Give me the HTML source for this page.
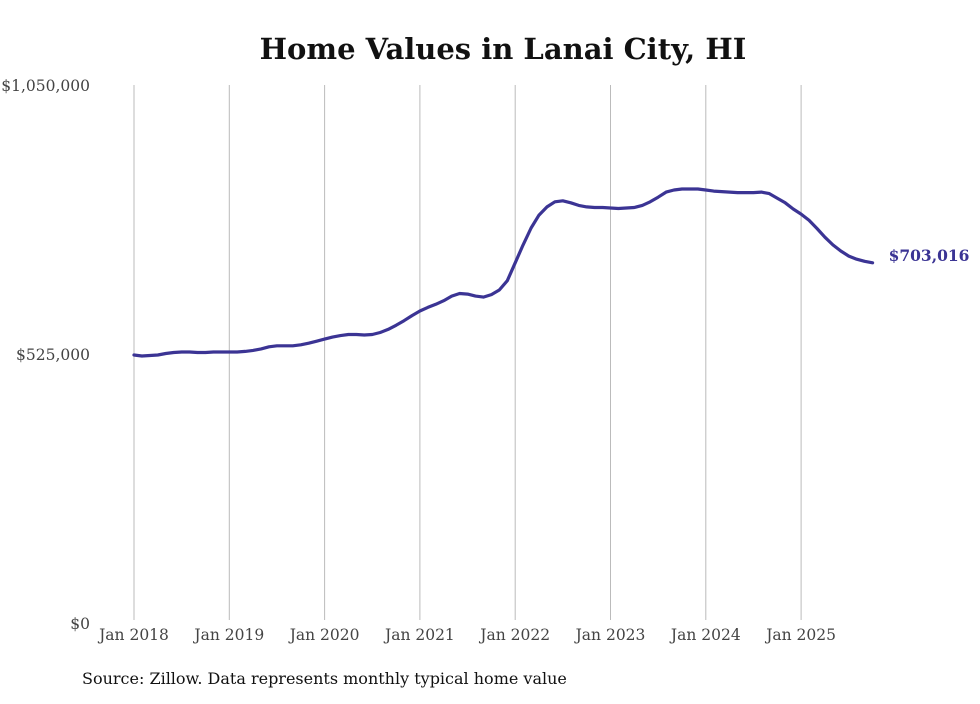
<!DOCTYPE html>
<html><head><meta charset="utf-8"><style>
body{margin:0;background:#fff;}
svg text{font-family:"DejaVu Serif","Liberation Serif",serif;}
</style></head><body>
<svg id="chart" width="980" height="699">
<text x="503" y="59" text-anchor="middle" font-size="29" font-weight="bold" fill="#111">Home Values in Lanai City, HI</text>
<g id="grid"></g>
<g id="yaxis"></g>
<g id="xaxis"></g>
<path id="line" fill="none" stroke="#3b3494" stroke-width="3.2" stroke-linejoin="round" stroke-linecap="round"/>
<text id="endlabel" font-size="15.5" font-weight="bold" fill="#3b3494"></text>
<text x="82" y="684" font-size="16" fill="#111">Source: Zillow. Data represents monthly typical home value</text>
</svg>
<script>
const yTicks=[0,525000,1050000];
const yTickLabels=["$0","$525,000","$1,050,000"];
const xTickYears=[2018,2019,2020,2021,2022,2023,2024,2025];
const xTickLabels=["Jan 2018","Jan 2019","Jan 2020","Jan 2021","Jan 2022","Jan 2023","Jan 2024","Jan 2025"];
const startYear=2018;
const values=[
523,521,522,523,526,528,529,529,528,528,529,529,
529,529,530,532,535,539,541,541,541,543,546,550,
554,558,561,563,563,562,563,567,573,581,590,600,
609,616,622,629,638,643,642,638,636,641,650,668,
703,738,771,796,812,822,824,820,815,812,811,811,
810,809,810,811,815,822,831,841,845,847,847,847,
845,843,842,841,840,840,840,841,838,829,820,808,
798,786,770,753,738,726,716,710,706,703.016].map(v=>v*1000);
const lastLabel="$703,016";

const NS="http://www.w3.org/2000/svg";
const x0=134,yearW=95.3,yBase=623,yTop=85,yMax=1050000;
const xs=m=>x0+m*yearW/12;
const ys=v=>yBase-(v/yMax)*(yBase-yTop);
function mk(tag,attrs,parent){const e=document.createElementNS(NS,tag);for(const k in attrs)e.setAttribute(k,attrs[k]);parent.appendChild(e);return e;}
const grid=document.getElementById('grid'),xa=document.getElementById('xaxis'),ya=document.getElementById('yaxis');
xTickYears.forEach((yr,i)=>{
  const x=xs((yr-startYear)*12);
  const l=mk('line',{x1:x,x2:x,y1:yTop,y2:620,stroke:'#bbb','stroke-width':1},grid);
  
  
  const t=mk('text',{x:x,y:640,'text-anchor':'middle','font-size':15.5,fill:'#444'},xa);
  t.textContent=xTickLabels[i];
  
  
});
yTicks.forEach((v,i)=>{
  const t=mk('text',{x:90,y:ys(v)+6,'text-anchor':'end','font-size':15.5,fill:'#444'},ya);
  t.textContent=yTickLabels[i];
  
  
});
let d='';
values.forEach((v,i)=>{d+=(i?'L':'M')+xs(i).toFixed(1)+','+ys(v).toFixed(1);});
document.getElementById('line').setAttribute('d',d);
const n=values.length-1;
const el=document.getElementById('endlabel');
el.setAttribute('x',xs(n)+16);el.setAttribute('y',ys(values[n])-2);
el.textContent=lastLabel;
</script>
</body></html>
